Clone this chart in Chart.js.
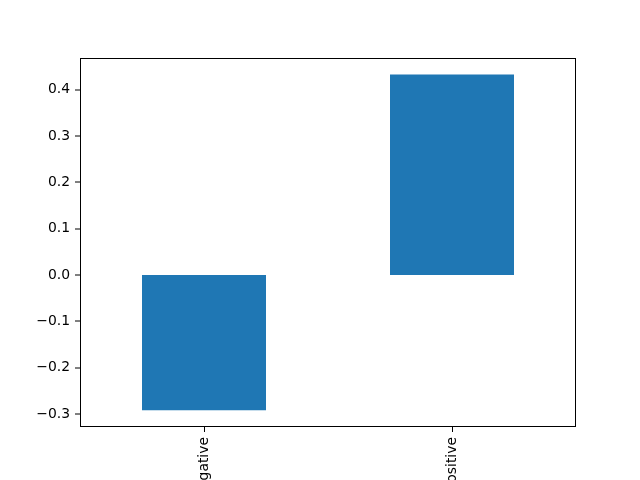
<!DOCTYPE html>
<html>
<head>
<meta charset="utf-8">
<script src="https://cdn.jsdelivr.net/npm/chart.js@4"></script>
<style>
html,body{margin:0;padding:0;background:#fff;overflow:hidden;}
#wrap{width:640px;height:480px;position:relative;}
</style>
</head>
<body>
<div id="wrap"><canvas id="c"></canvas></div>
<script>
const categories = ["negative", "positive"];
const values = [-0.292, 0.433];
const yTicks = [-0.3, -0.2, -0.1, 0.0, 0.1, 0.2, 0.3, 0.4];
const yMin = -0.3283;
const yMax = 0.4687;

const FONT = {family: "'DejaVu Sans', sans-serif", size: 13.9};

const frame = {
  id: 'frame',
  afterDraw(chart) {
    const {ctx, chartArea: a} = chart;
    ctx.save();
    ctx.strokeStyle = '#000';
    ctx.lineWidth = 1;
    ctx.strokeRect(Math.round(a.left) + 0.5, Math.round(a.top) + 0.5,
                   Math.round(a.right - a.left) - 1, Math.round(a.bottom - a.top) - 1);
    ctx.restore();
  }
};

new Chart(document.getElementById('c'), {
  type: 'bar',
  data: {
    labels: categories,
    datasets: [{
      data: values,
      backgroundColor: '#1f77b4',
      borderWidth: 0,
      borderSkipped: false,
      inflateAmount: 0,
      barPercentage: 0.5,
      categoryPercentage: 1.0
    }]
  },
  options: {
    responsive: true,
    maintainAspectRatio: false,
    animation: false,
    layout: {padding: {top: 58, right: 64, left: 0, bottom: 0}},
    plugins: {legend: {display: false}, tooltip: {enabled: false}},
    scales: {
      x: {
        offset: true,
        grid: {display: true, offset: false, drawOnChartArea: false, tickLength: 5, color: '#000', tickWidth: 1},
        border: {display: false},
        ticks: {color: '#000', font: FONT, padding: 5, minRotation: 90, maxRotation: 90, autoSkip: false},
        afterFit(scale) { scale.height = 53; }
      },
      y: {
        min: yMin,
        max: yMax,
        grid: {display: true, drawOnChartArea: false, lineWidth: 0, tickLength: 5, color: '#000', tickColor: '#000', tickWidth: 1},
        border: {display: false},
        afterBuildTicks(scale) { scale.ticks = yTicks.map(v => ({value: v})); },
        ticks: {
          color: '#000', font: FONT, padding: 5,
          callback(v) { const s = Math.abs(v).toFixed(1); return (v < -1e-9 ? '\u2212' : '') + s; }
        },
        afterFit(scale) { scale.width = 80; }
      }
    }
  },
  plugins: [frame]
});
</script>
</body>
</html>
